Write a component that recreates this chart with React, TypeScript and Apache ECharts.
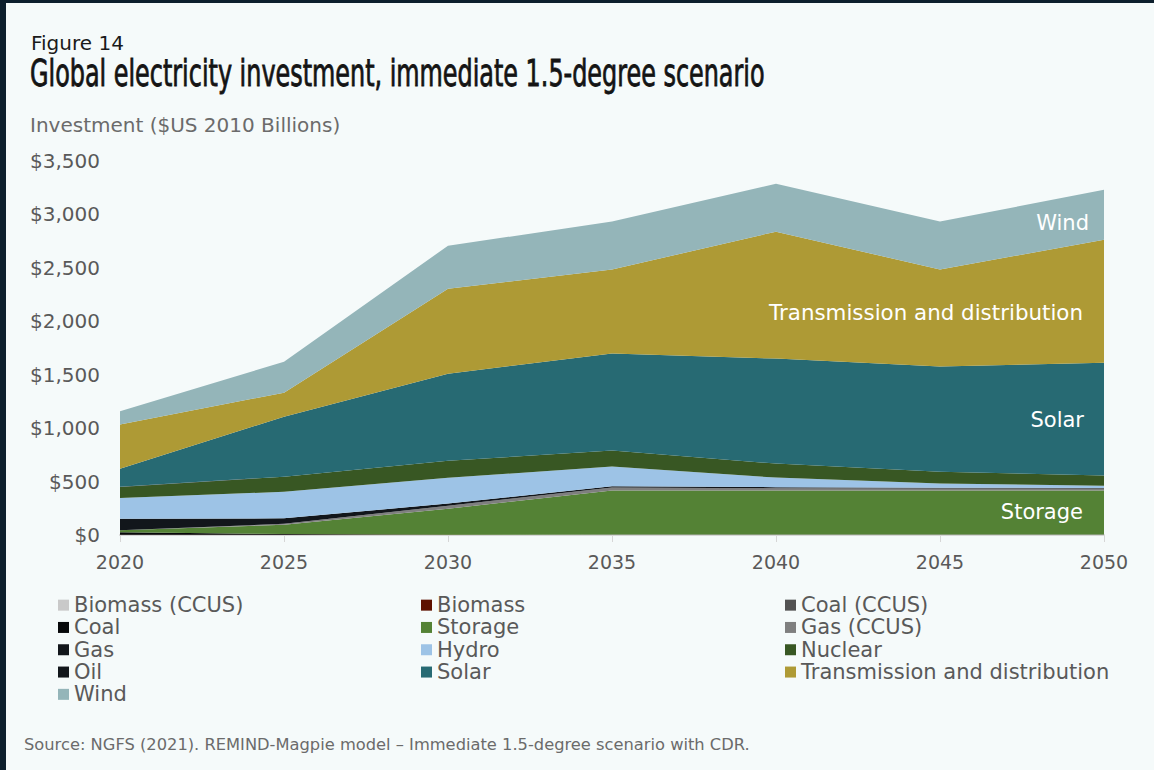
import React, { useEffect, useRef } from "react";
import * as echarts from "echarts";

const years = ["2020", "2025", "2030", "2035", "2040", "2045", "2050"];
const biomassCcus = [0, 0, 1, 2, 2, 2, 2];
const biomass = [3, 2, 1, 1, 1, 1, 1];
const coalCcus = [0, 0, 0, 1, 1, 1, 1];
const coal = [22, 8, 1, 0, 0, 0, 0];
const storage = [19, 86, 243, 412, 412, 412, 412];
const gasCcus = [0, 9, 28, 28, 22, 18, 20];
const gas = [107, 51, 20, 12, 10, 8, 4];
const hydro = [196, 248, 242, 184, 89, 39, 22];
const nuclear = [103, 141, 159, 150, 131, 112, 94];
const oil = [2, 1, 0, 0, 0, 0, 0];
const solar = [169, 561, 814, 908, 983, 983, 1057];
const transmission = [414, 225, 796, 786, 1188, 908, 1151];
const wind = [122, 290, 402, 449, 449, 449, 468];

const seriesNames = [
  "Biomass (CCUS)", "Biomass", "Coal (CCUS)", "Coal", "Storage", "Gas (CCUS)", "Gas",
  "Hydro", "Nuclear", "Oil", "Solar", "Transmission and distribution", "Wind",
];
const seriesData = [
  biomassCcus, biomass, coalCcus, coal, storage, gasCcus, gas,
  hydro, nuclear, oil, solar, transmission, wind,
];
const seriesColors = [
  "#c9c9c9", "#5e1100", "#525252", "#07080a", "#548235", "#7f7f7f", "#12161b",
  "#9dc3e6", "#385723", "#12161b", "#276a73", "#ae9a35", "#94b5b9",
];
const legendCol1 = ["Biomass (CCUS)", "Coal", "Gas", "Oil", "Wind"];
const legendCol2 = ["Biomass", "Storage", "Hydro", "Solar"];
const legendCol3 = ["Coal (CCUS)", "Gas (CCUS)", "Nuclear", "Transmission and distribution"];

const FONT = "'DejaVu Sans', 'Open Sans', sans-serif";
const TITLE_FONT = "'Liberation Sans Narrow', 'DejaVu Sans Condensed', sans-serif";
const TITLE = "Global electricity investment, immediate 1.5-degree scenario";

function measure(text: string, font: string): number {
  const c = document.createElement("canvas");
  const ctx = c.getContext("2d");
  if (!ctx) return 0;
  ctx.font = font;
  return ctx.measureText(text).width;
}

export default function App() {
  const ref = useRef<HTMLDivElement>(null);
  useEffect(() => {
    if (!ref.current) return;
    const chart = echarts.init(ref.current, undefined, { renderer: "svg" });
    const titleSize = 37;
    const tw = measure(TITLE, `${titleSize}px ${TITLE_FONT}`);
    const titleScale = tw > 0 ? 735 / tw : 1;

    const legendCommon = {
      orient: "vertical" as const,
      top: 594,
      itemWidth: 11,
      itemHeight: 11,
      itemGap: 0,
      padding: 0,
      icon: "rect",
      selectedMode: false,
      textStyle: { fontSize: 21, color: "#595959", fontFamily: FONT, lineHeight: 22.3 },
    };

    chart.setOption({
      animation: false,
      backgroundColor: "#f5fafa",
      grid: { left: 120, right: 50, top: 161, bottom: 235, containLabel: false },
      legend: [
        { ...legendCommon, left: 58, data: legendCol1 },
        { ...legendCommon, left: 421, data: legendCol2 },
        { ...legendCommon, left: 785, data: legendCol3 },
      ],
      xAxis: {
        type: "category",
        data: years,
        boundaryGap: false,
        axisLine: { show: true, lineStyle: { color: "#d6d6d6", width: 2 } },
        axisTick: { show: true, length: 7, lineStyle: { color: "#d6d6d6", width: 1 } },
        axisLabel: { fontSize: 19, color: "#595959", fontFamily: FONT, margin: 17 },
        splitLine: { show: false },
      },
      yAxis: {
        type: "value",
        min: 0,
        max: 3500,
        interval: 500,
        axisLine: { show: false },
        axisTick: { show: false },
        splitLine: { show: false },
        axisLabel: {
          fontSize: 20,
          color: "#595959",
          fontFamily: FONT,
          margin: 20,
          formatter: (v: number) => "$" + v.toLocaleString("en-US"),
        },
      },
      series: seriesNames.map((name, i) => ({
        name,
        type: "line",
        stack: "total",
        data: seriesData[i],
        symbol: "none",
        showSymbol: false,
        lineStyle: { width: 0 },
        areaStyle: { color: seriesColors[i], opacity: 1 },
        itemStyle: { color: seriesColors[i] },
        emphasis: { disabled: true },
      })),
      graphic: [
        { type: "rect", z: 100, shape: { x: 0, y: 0, width: 6, height: 770 }, style: { fill: "#0d1f2d" } },
        { type: "rect", z: 100, shape: { x: 0, y: 0, width: 1154, height: 3 }, style: { fill: "#0d1f2d" } },
        {
          type: "text", z: 100, x: 31, y: 43,
          style: { text: "Figure 14", fontSize: 20, fontFamily: FONT, fill: "#1a1a1a", verticalAlign: "middle", align: "left" },
        },
        {
          type: "text", z: 100, x: 30, y: 73, scaleX: titleScale,
          style: { text: TITLE, fontSize: titleSize, fontFamily: TITLE_FONT, fill: "#141414", verticalAlign: "middle", align: "left", stroke: "#141414", lineWidth: 0.8 },
        },
        {
          type: "text", z: 100, x: 30, y: 125,
          style: { text: "Investment ($US 2010 Billions)", fontSize: 20, fontFamily: FONT, fill: "#6b6b6b", verticalAlign: "middle", align: "left" },
        },
        {
          type: "text", z: 100, x: 1089, y: 223,
          style: { text: "Wind", fontSize: 21, fontFamily: FONT, fill: "#ffffff", verticalAlign: "middle", align: "right" },
        },
        {
          type: "text", z: 100, x: 1083, y: 312,
          style: { text: "Transmission and distribution", fontSize: 21.4, fontFamily: FONT, fill: "#ffffff", verticalAlign: "middle", align: "right" },
        },
        {
          type: "text", z: 100, x: 1084, y: 420,
          style: { text: "Solar", fontSize: 21, fontFamily: FONT, fill: "#ffffff", verticalAlign: "middle", align: "right" },
        },
        {
          type: "text", z: 100, x: 1083, y: 512,
          style: { text: "Storage", fontSize: 21, fontFamily: FONT, fill: "#ffffff", verticalAlign: "middle", align: "right" },
        },
        {
          type: "text", z: 100, x: 24, y: 744,
          style: { text: "Source: NGFS (2021). REMIND-Magpie model – Immediate 1.5-degree scenario with CDR.", fontSize: 16.3, fontFamily: FONT, fill: "#6b6b6b", verticalAlign: "middle", align: "left" },
        },
      ],
    });
    return () => chart.dispose();
  }, []);
  return (
    <div
      ref={ref}
      style={{ position: "fixed", left: 0, top: 0, width: 1154, height: 770 }}
    />
  );
}
